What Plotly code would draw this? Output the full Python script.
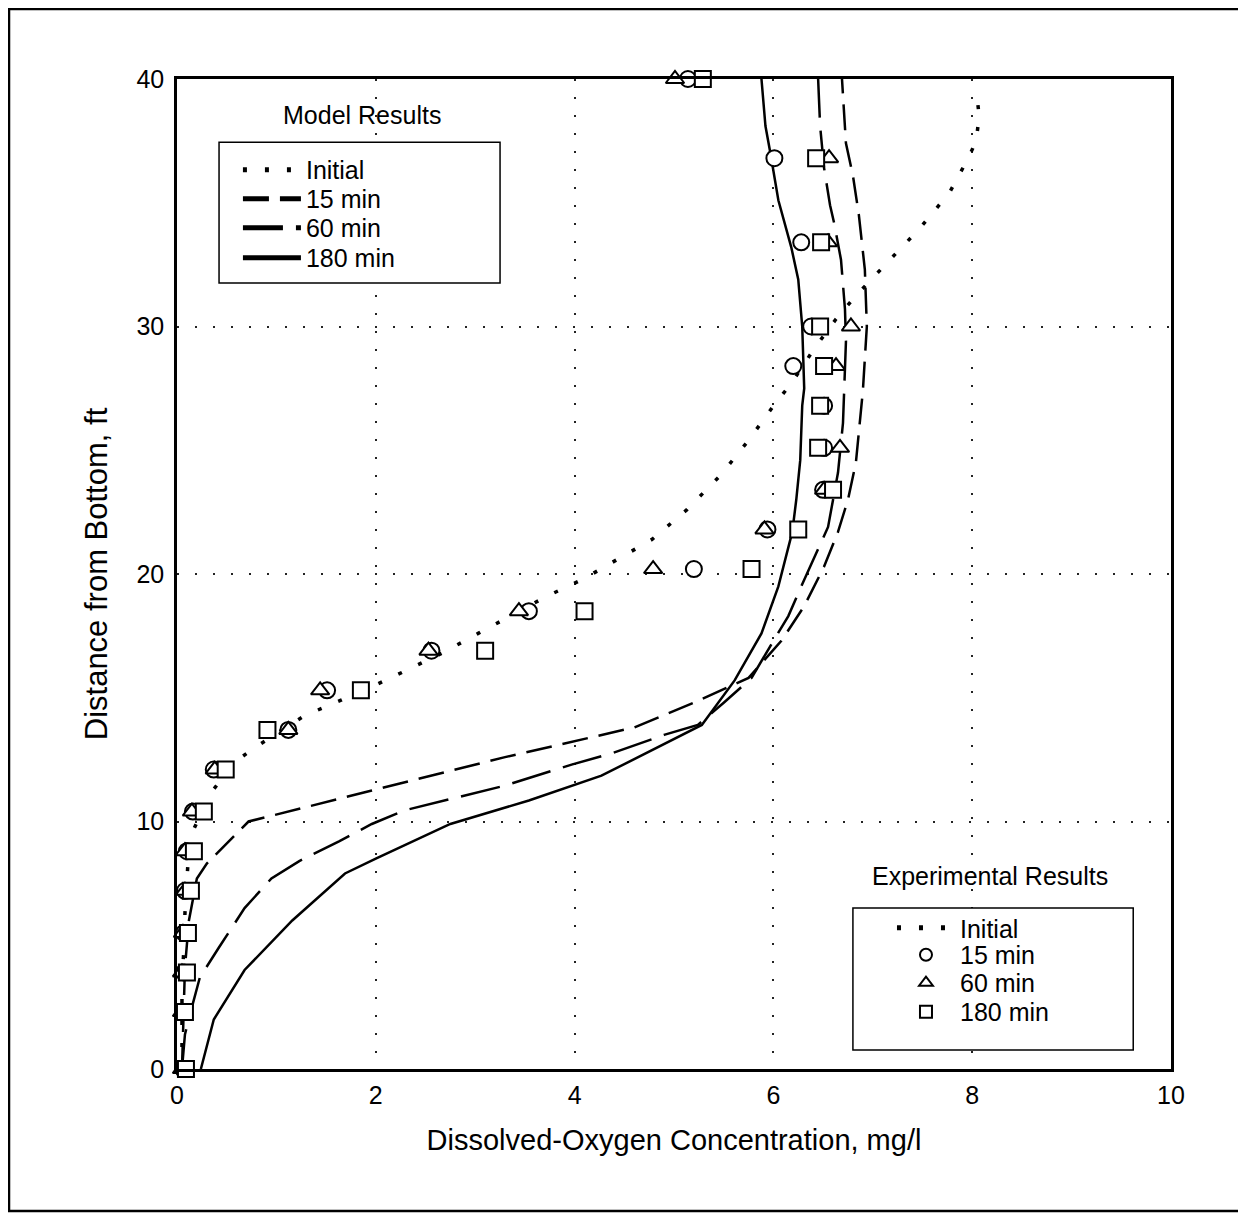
import plotly.graph_objects as go

# ----- Model curves (DO in mg/l, distance from bottom in ft)
init_x = [0.05, 0.05, 0.07, 0.08, 0.11, 0.17, 0.33, 0.58, 0.77, 1.28, 1.65, 1.99, 2.33, 2.69, 3.03,
          3.21, 3.72, 4.09, 4.44, 4.78, 5.13, 5.47, 5.75, 6.02, 6.18, 6.41, 6.63, 6.82, 7.15, 7.48,
          7.77, 7.96, 8.04, 8.07, 8.04]
init_y = [0.0, 3.5, 4.9, 6.3, 8.3, 9.7, 11.1, 12.4, 12.95, 14.27, 14.9, 15.5, 16.15, 16.85, 17.6,
          18.0, 19.1, 19.8, 20.6, 21.4, 22.6, 24.0, 25.4, 26.9, 27.7, 29.1, 30.3, 31.2, 32.6, 34.0,
          35.4, 36.8, 37.5, 38.5, 39.6]

m15_x = [0.05, 0.08, 0.12, 0.2, 0.3, 0.72, 1.96, 3.3, 4.6, 5.2, 5.75, 6.08, 6.31, 6.51, 6.65,
         6.75, 6.83, 6.9, 6.94, 6.93, 6.92, 6.86, 6.8, 6.73, 6.7, 6.69]
m15_y = [0.0, 4.1, 6.0, 7.7, 8.3, 10.0, 11.25, 12.6, 13.8, 14.8, 15.8, 17.3, 18.7, 20.3, 21.7,
         23.0, 24.5, 27.4, 30.0, 31.4, 32.3, 34.5, 36.1, 37.4, 39.1, 40.0]

m60_x = [0.05, 0.08, 0.15, 0.23, 0.42, 0.68, 0.95, 1.23, 1.63, 1.96, 2.29, 3.3, 3.97, 4.37, 4.9,
         5.24, 5.5, 5.78, 6.0, 6.15, 6.28, 6.45, 6.55, 6.65, 6.7, 6.72, 6.73, 6.72, 6.68, 6.61,
         6.57, 6.51, 6.47, 6.45]
m60_y = [0.0, 1.4, 2.5, 3.7, 4.9, 6.5, 7.7, 8.4, 9.2, 9.9, 10.45, 11.45, 12.3, 12.75, 13.5,
         13.9, 14.8, 15.8, 17.3, 18.3, 19.5, 21.0, 21.9, 24.1, 26.1, 28.3, 29.4, 30.7, 32.7, 34.2,
         34.9, 36.4, 38.1, 40.0]

m180_x = [0.24, 0.37, 0.68, 1.16, 1.69, 2.0, 2.75, 3.54, 4.27, 5.28, 5.61, 5.88, 6.05, 6.12, 6.19,
          6.23, 6.27, 6.29, 6.31, 6.29, 6.25, 6.18, 6.05, 5.97, 5.92, 5.88]
m180_y = [0.0, 2.0, 4.0, 6.0, 7.9, 8.5, 9.9, 10.85, 11.85, 13.9, 15.7, 17.6, 19.5, 20.6, 21.7,
          23.0, 24.6, 26.8, 27.5, 30.0, 31.9, 33.2, 35.1, 37.0, 38.1, 40.0]

# ----- Experimental results
e15_x = [5.14, 6.01, 6.28, 6.38, 6.2, 6.51, 6.51, 6.5, 5.94, 5.2, 3.54, 2.56, 1.51, 1.12, 0.37,
         0.16, 0.1, 0.08, 0.07, 0.07, 0.06, 0.06]
e15_y = [40.0, 36.8, 33.4, 30.0, 28.4, 26.8, 25.1, 23.4, 21.8, 20.2, 18.5, 16.9, 15.3, 13.7, 12.1,
         10.4, 8.8, 7.2, 5.5, 3.9, 2.3, 0.0]

e60_x = [5.01, 6.56, 6.55, 6.78, 6.63, 6.67, 6.51, 5.91, 4.79, 3.44, 2.53, 1.44, 1.12, 0.38,
         0.15, 0.08, 0.08, 0.06, 0.05, 0.05, 0.05]
e60_y = [40.0, 36.8, 33.4, 30.0, 28.4, 25.1, 23.4, 21.8, 20.2, 18.5, 16.9, 15.3, 13.7, 12.1,
         10.4, 8.8, 7.2, 5.5, 3.9, 2.3, 0.0]

e180_x = [5.29, 6.43, 6.48, 6.47, 6.51, 6.47, 6.45, 6.6, 6.25, 5.78, 4.1, 3.1, 1.85, 0.91, 0.49,
          0.27, 0.17, 0.14, 0.11, 0.1, 0.08, 0.09]
e180_y = [40.0, 36.8, 33.4, 30.0, 28.4, 26.8, 25.1, 23.4, 21.8, 20.2, 18.5, 16.9, 15.3, 13.7, 12.1,
          10.4, 8.8, 7.2, 5.5, 3.9, 2.3, 0.0]

x_ticks = [0, 2, 4, 6, 8, 10]
y_ticks = [0, 10, 20, 30, 40]

FONT = "Liberation Sans, Arial, sans-serif"
DOT = "4px,18px"

fig = go.Figure()

# model results
model = [
    ("Initial", init_x, init_y, dict(width=3.5, dash=DOT)),
    ("15 min", m15_x, m15_y, dict(width=2.5, dash="26px,11px")),
    ("60 min", m60_x, m60_y, dict(width=2.5, dash="40px,13px")),
    ("180 min", m180_x, m180_y, dict(width=2.5)),
]
# experimental results (the initial profile is the dotted curve)
expt = [
    ("Initial", [None], [None], None),
    ("15 min", e15_x, e15_y, "circle"),
    ("60 min", e60_x, e60_y, "triangle-up"),
    ("180 min", e180_x, e180_y, "square"),
]

# each legend entry sits in its own legend so the row spacing can follow the original
model_rows = [0.9081, 0.8788, 0.8495, 0.8192]
expt_rows = [0.1424, 0.1152, 0.0869, 0.0576]
leg_font = dict(size=25, color="black", family=FONT)
legends = {}
n = 0
for (name, xs, ys, ln), row in zip(model, model_rows):
    n += 1
    lid = "legend" if n == 1 else f"legend{n}"
    fig.add_trace(go.Scatter(x=xs, y=ys, mode="lines", name=name, legend=lid,
                             line=dict(color="black", **ln)))
    legends[lid] = dict(x=0.0613, y=row, xanchor="left", yanchor="middle")
for (name, xs, ys, sym), row in zip(expt, expt_rows):
    n += 1
    lid = f"legend{n}"
    if sym is None:
        fig.add_trace(go.Scatter(x=xs, y=ys, mode="lines", name=name, legend=lid,
                                 line=dict(color="black", width=3.5, dash=DOT)))
    else:
        fig.add_trace(go.Scatter(x=xs, y=ys, mode="markers", name=name, legend=lid,
                                 cliponaxis=False,
                                 marker=dict(symbol=sym, color="white", size=16,
                                             line=dict(color="black", width=2))))
    legends[lid] = dict(x=0.7193, y=row, xanchor="left", yanchor="middle")

for lid, pos in legends.items():
    fig.update_layout({lid: dict(bgcolor="rgba(0,0,0,0)", borderwidth=0, font=leg_font,
                                 itemwidth=58, itemsizing="constant", **pos)})

grid = dict(showgrid=True, gridcolor="#222", gridwidth=1.5, griddash="2px,16px",
            showline=True, linecolor="black", linewidth=2.5, mirror=True,
            ticks="", zeroline=False, tickfont=dict(size=25, color="black", family=FONT))

fig.update_xaxes(range=[0, 10], tickvals=x_ticks, ticklabelstandoff=2, **grid,
                 title=dict(text="Dissolved-Oxygen Concentration, mg/l", standoff=22,
                            font=dict(size=29, color="black", family=FONT)))
fig.update_yaxes(range=[0, 40], tickvals=y_ticks, ticklabelstandoff=5, **grid,
                 title=dict(text="Distance from Bottom, ft", standoff=20,
                            font=dict(size=31, color="black", family=FONT)))

fig.update_layout(
    width=1246, height=1215, showlegend=True,
    margin=dict(l=169, r=83, t=71, b=154, autoexpand=False),
    paper_bgcolor="white", plot_bgcolor="white",
    font=dict(family=FONT, color="black"),
    shapes=[
        dict(type="rect", xref="paper", yref="paper", x0=0.0423, x1=0.325, y0=0.794, y1=0.936,
             line=dict(color="black", width=1.5), fillcolor="white", layer="above"),
        dict(type="rect", xref="paper", yref="paper", x0=0.680, x1=0.962, y0=0.0192, y1=0.1626,
             line=dict(color="black", width=1.5), fillcolor="white", layer="above"),
        dict(type="rect", xref="paper", yref="paper", x0=-0.169, x1=1.0734, y0=-0.1434, y1=1.0707,
             line=dict(color="black", width=2.5)),
    ],
    annotations=[
        dict(text="Model Results", x=0.1861, y=0.9636, xref="paper", yref="paper",
             xanchor="center", yanchor="middle", showarrow=False,
             font=dict(size=25, family=FONT, color="black")),
        dict(text="Experimental Results", x=0.8179, y=0.1949, xref="paper", yref="paper",
             xanchor="center", yanchor="middle", showarrow=False,
             font=dict(size=25, family=FONT, color="black")),
    ],
)

fig.write_html("out.html")
